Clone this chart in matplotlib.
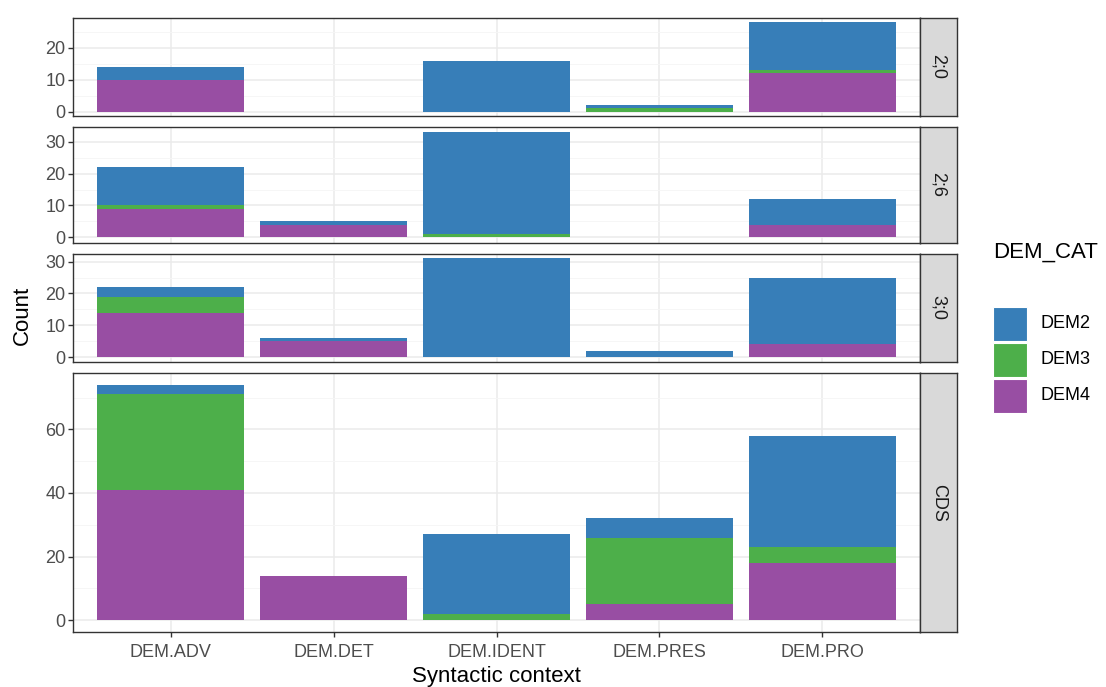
import matplotlib
matplotlib.use("Agg")
import matplotlib.pyplot as plt
from matplotlib.patches import Rectangle
import numpy as np

plt.rcParams['font.family'] = ['Liberation Sans', 'DejaVu Sans']

contexts = ["DEM.ADV", "DEM.DET", "DEM.IDENT", "DEM.PRES", "DEM.PRO"]
panels = ["2;0", "2;6", "3;0", "CDS"]
categories = ["DEM2", "DEM3", "DEM4"]
colors = {"DEM2": "#377EB8", "DEM3": "#4DAF4A", "DEM4": "#984EA3"}

# counts per panel, per context
dem4 = {"2;0": [10, 0, 0, 0, 12],
        "2;6": [9, 4, 0, 0, 4],
        "3;0": [14, 5, 0, 0, 4],
        "CDS": [41, 14, 0, 5, 18]}
dem3 = {"2;0": [0, 0, 0, 1, 1],
        "2;6": [1, 0, 1, 0, 0],
        "3;0": [5, 0, 0, 0, 0],
        "CDS": [30, 0, 2, 21, 5]}
dem2 = {"2;0": [4, 0, 16, 1, 15],
        "2;6": [12, 1, 32, 0, 8],
        "3;0": [3, 1, 31, 2, 21],
        "CDS": [3, 0, 25, 6, 35]}
yticks = {"2;0": [0, 10, 20], "2;6": [0, 10, 20, 30],
          "3;0": [0, 10, 20, 30], "CDS": [0, 20, 40, 60]}

W, H = 1106, 687
fig = plt.figure(figsize=(W / 100, H / 100), dpi=100)

left_px, right_px = 73, 920
top_px, bottom_px = 18, 632
gap_px = 11
strip_w = 37

totals = {p: np.array(dem4[p]) + np.array(dem3[p]) + np.array(dem2[p]) for p in panels}
ranges = [totals[p].max() * 1.1 for p in panels]
unit = (bottom_px - top_px - gap_px * (len(panels) - 1)) / sum(ranges)

x = np.arange(1, len(contexts) + 1)
y_cur = top_px
for i, p in enumerate(panels):
    h = ranges[i] * unit
    ax = fig.add_axes([left_px / W, 1 - (y_cur + h) / H, (right_px - left_px) / W, h / H])
    mx = totals[p].max()
    ax.set_ylim(-0.05 * mx, mx * 1.05)
    ax.set_xlim(0.4, len(contexts) + 0.6)
    bottom = np.zeros(len(contexts))
    for cat, data in (("DEM4", dem4[p]), ("DEM3", dem3[p]), ("DEM2", dem2[p])):
        vals = np.array(data, dtype=float)
        ax.bar(x, vals, width=0.9, bottom=bottom, color=colors[cat], linewidth=0, zorder=3)
        bottom += vals
    t = yticks[p]
    step = t[1] - t[0]
    ax.set_yticks(t)
    minors = [v + step / 2 for v in [t[0] - step] + t]
    minors = [m for m in minors if -0.05 * mx <= m <= mx * 1.05]
    ax.set_yticks(minors, minor=True)
    ax.grid(True, which="major", axis="both", color="#EBEBEB", linewidth=1.1, zorder=0)
    ax.grid(True, which="minor", axis="y", color="#F5F5F5", linewidth=0.6, zorder=0)
    ax.tick_params(axis="y", which="minor", length=0)
    ax.tick_params(axis="both", which="major", length=3.5, width=1.0, color="#333333",
                   labelsize=13, labelcolor="#4D4D4D", pad=2)
    ax.tick_params(axis="x", pad=5)
    ax.set_xticks(x)
    for s in ax.spines.values():
        s.set_color("#333333")
        s.set_linewidth(1.0)
        s.set_zorder(5)
    if i < len(panels) - 1:
        ax.tick_params(axis="x", labelbottom=False, length=0)
    else:
        ax.set_xticklabels(contexts)
        ax.set_xlabel("Syntactic context", fontsize=16, labelpad=4)
    # strip
    sax = fig.add_axes([right_px / W, 1 - (y_cur + h) / H, strip_w / W, h / H])
    sax.set_facecolor("#D9D9D9")
    sax.set_xticks([]); sax.set_yticks([])
    for s in sax.spines.values():
        s.set_color("#333333")
        s.set_linewidth(1.0)
    sax.text(0.5, 0.5, p, rotation=-90, ha="center", va="center", fontsize=13,
             color="#1A1A1A", transform=sax.transAxes)
    y_cur += h + gap_px

fig.text(22 / W, 1 - 315 / H, "Count", rotation=90, ha="center", va="center", fontsize=16)

# legend (drawn in figure pixel coordinates)
fig.text(993 / W, 1 - 252 / H, "DEM_CAT", ha="left", va="center", fontsize=16, color="#000000")
key_top = 307
for j, c in enumerate(categories):
    yt = key_top + j * 36
    fig.patches.append(Rectangle((993 / W, 1 - (yt + 34) / H), 34 / W, 34 / H,
                                 transform=fig.transFigure, facecolor=colors[c],
                                 edgecolor="white", linewidth=0.8))
    fig.text(1041 / W, 1 - (yt + 17) / H, c, ha="left", va="center", fontsize=13,
             color="#000000")

fig.savefig("out.png", dpi=100)
